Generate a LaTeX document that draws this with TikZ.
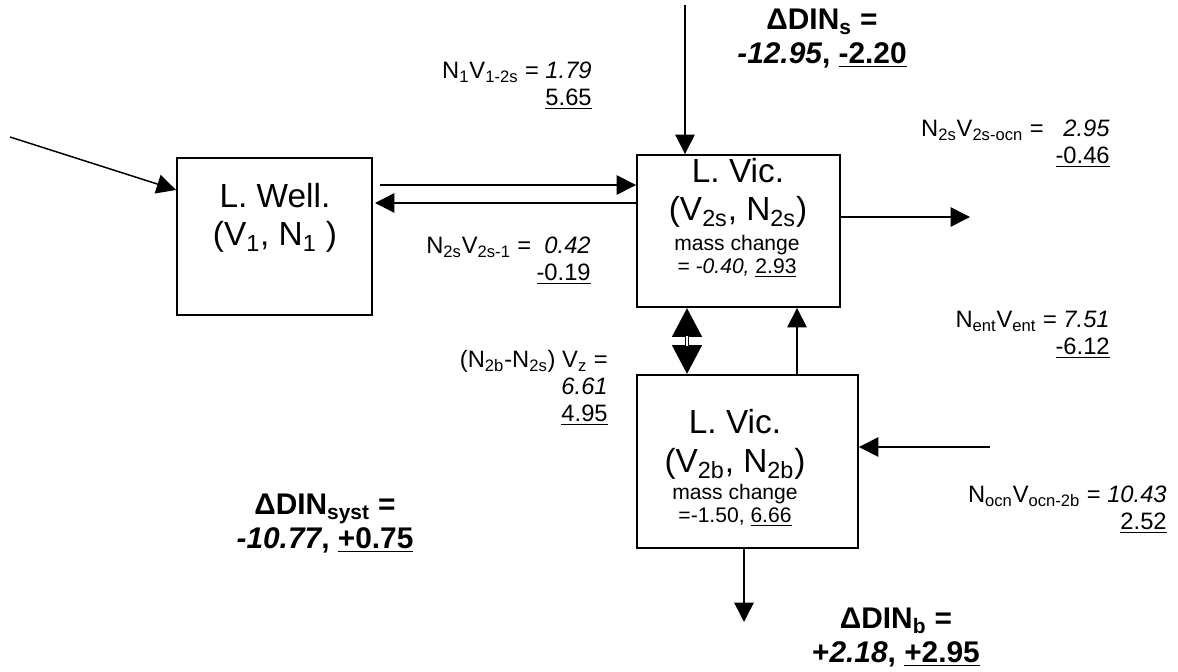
\documentclass[tikz,border=0pt]{standalone}
\usepackage{fontspec}
\setmainfont{Liberation Sans}
\usetikzlibrary{arrows.meta, positioning}
\newcommand{\sbs}[1]{\textsubscript{#1}}

\begin{document}
\begin{tikzpicture}[x=0.02cm, y=-0.02cm,
  box/.style={draw, line width=1.1pt, inner sep=0pt},
  big/.style={font=\fontsize{19}{22}\selectfont, align=center, inner sep=0pt},
  mass/.style={font=\fontsize{12}{13}\selectfont, align=center, inner sep=0pt},
  lbl/.style={font=\fontsize{13.5}{15.3}\selectfont, align=right, inner sep=0pt, anchor=east},
  din/.style={font=\fontsize{17}{19}\selectfont\bfseries, align=center, inner sep=0pt},
  flow/.style={-{Triangle[length=11pt, width=11pt]}, line width=0.85pt},
  zflow/.style={{Triangle[length=16.5pt, width=16.5pt]}-{Triangle[length=16.5pt, width=16.5pt]}, line width=2.8pt}
]
  \useasboundingbox (0,0) rectangle (1178,672);

  % reservoirs
  \node[box, minimum width=3.9cm, minimum height=3.14cm] (well) at (274.5,236.5) {};
  \node[box, minimum width=4.06cm, minimum height=3.04cm] (vs) at (738.5,231) {};
  \node[box, minimum width=4.42cm, minimum height=3.46cm] (vb) at (747.5,461.5) {};

  \node[big] (wellt) at (275,218) {L. Well.\\(V\sbs{1}, N\sbs{1} )};
  \node[big] (vst) at (738,193) {L. Vic.\\(V\sbs{2s}, N\sbs{2s})};
  \node[mass] (vsm) at (737,256) {mass change\\= \textit{-0.40,} \underline{2.93}};
  \node[big] (vbt) at (735,444.5) {L. Vic.\\(V\sbs{2b}, N\sbs{2b})};
  \node[mass] (vbm) at (735,505.5) {mass change\\=-1.50, \underline{6.66}};

  % free ends
  \coordinate (src) at (10,137);
  \coordinate (win) at (0,190);
  \coordinate (w2v) at (380,185);
  \coordinate (v2w) at (375,203);
  \coordinate (stop) at (685,5);
  \coordinate (ocn) at (970,217);
  \coordinate (zx) at (687,0);
  \coordinate (ex) at (797,0);
  \coordinate (ocb) at (990,447);
  \coordinate (bot) at (744,622);

  % flows
  \draw[flow] (src) -- (well.west |- win);
  \draw[flow] (w2v) -- (vs.west |- w2v);
  \draw[flow] (vs.west |- v2w) -- (v2w);
  \draw[flow] (stop) -- (stop |- vs.north);
  \draw[flow] (vs.east |- ocn) -- (ocn);
  \draw[zflow] (vs.south -| zx) -- (vb.north -| zx);
  \draw[white, line width=1.2pt, shorten <=16pt, shorten >=16pt] (vs.south -| zx) -- (vb.north -| zx);
  \draw[flow] (vb.north -| ex) -- (vs.south -| ex);
  \draw[flow] (ocb) -- (vb.east |- ocb);
  \draw[flow] (vb.south -| bot) -- (bot);

  % fluxes
  \node[lbl] (f12) at (592,85.5) {N\sbs{1}V\sbs{1-2s} = \textit{1.79}\\\underline{5.65}};
  \node[lbl] (f2o) at (1110,144) {N\sbs{2s}V\sbs{2s-ocn} = \ \ \textit{2.95}\\\underline{-0.46}};
  \node[lbl] (f21) at (591,260.5) {N\sbs{2s}V\sbs{2s-1} = \ \textit{0.42}\\\underline{-0.19}};
  \node[lbl] (fent) at (1110,335) {N\sbs{ent}V\sbs{ent} = \textit{7.51}\\\underline{-6.12}};
  \node[lbl] (fz) at (608,388) {(N\sbs{2b}-N\sbs{2s}) V\sbs{z} =\\\textit{6.61}\\\underline{4.95}};
  \node[lbl] (fo2) at (1167,510) {N\sbs{ocn}V\sbs{ocn-2b} = \textit{10.43}\\\underline{2.52}};

  % budgets
  \node[din] (dins) at (822,38.5) {ΔDIN\sbs{s} =\\\textit{-12.95}, \underline{-2.20}};
  \node[din] (dinsy) at (325,523.5) {ΔDIN\sbs{syst} =\\\textit{-10.77}, \underline{+0.75}};
  \node[din] (dinb) at (896,637.5) {ΔDIN\sbs{b} =\\+\textit{2.18}, \underline{+2.95}};
\end{tikzpicture}
\end{document}
